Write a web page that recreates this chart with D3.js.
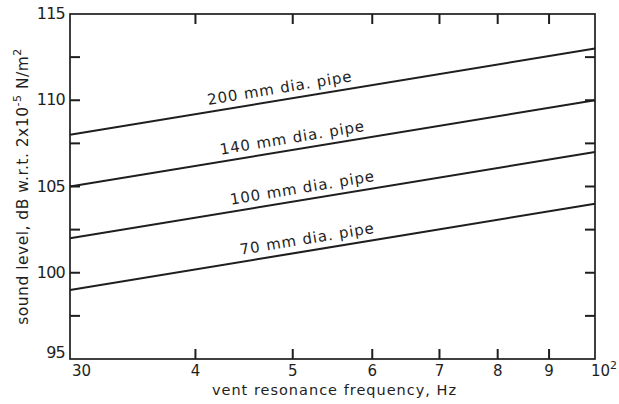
<!DOCTYPE html>
<html>
<head>
<meta charset="utf-8">
<script src="https://cdn.jsdelivr.net/npm/d3@7"></script>
<style>
  html, body { margin: 0; padding: 0; background: #fff; }
  svg text { font-family: "DejaVu Sans", sans-serif; fill: #1e1e1e; }
</style>
</head>
<body>
<svg id="chart" width="619" height="404"></svg>
<script>
// Sound level vs vent resonance frequency, one line per pipe diameter
const pipeLabels = ["200 mm dia. pipe", "140 mm dia. pipe", "100 mm dia. pipe", "70 mm dia. pipe"];
const freqs = [30, 100];
const level200 = [108, 113];
const level140 = [105, 110];
const level100 = [102, 107];
const level70  = [99, 104];
const labelFreq = [41.3, 42.5, 43.5, 44.5];

const xTicks = [30, 40, 50, 60, 70, 80, 90, 100];
const xTickLabels = ["30", "4", "5", "6", "7", "8", "9", "10"];
const yMajor = [95, 100, 105, 110, 115];
const yMinor = [97.5, 102.5, 107.5, 112.5];

const series = [level200, level140, level100, level70];

const svg = d3.select("#chart");
const margin = { left: 70, right: 24, top: 14, bottom: 45 };
const W = 619, H = 404;

const x = d3.scaleLog().domain([30, 100]).range([margin.left, W - margin.right]);
const y = d3.scaleLinear().domain([95, 115]).range([H - margin.bottom, margin.top]);

const ink = "#1e1e1e";
const tickLen = 10;
const innerX = xTicks.slice(1, -1);
const innerY = yMajor.slice(1, -1).concat(yMinor).sort((a, b) => a - b);

// frame
svg.append("rect")
  .attr("x", x(30)).attr("y", y(115))
  .attr("width", x(100) - x(30)).attr("height", y(95) - y(115))
  .attr("fill", "none").attr("stroke", ink).attr("stroke-width", 1.7);

// inward tick marks on all four sides
const tickLayer = svg.append("g");
tickLayer.selectAll("line.xb").data(innerX).join("line").attr("class", "xb")
  .attr("x1", d => x(d)).attr("x2", d => x(d))
  .attr("y1", y(95)).attr("y2", y(95) - tickLen);
tickLayer.selectAll("line.xt").data(innerX).join("line").attr("class", "xt")
  .attr("x1", d => x(d)).attr("x2", d => x(d))
  .attr("y1", y(115)).attr("y2", y(115) + tickLen);
tickLayer.selectAll("line.yl").data(innerY).join("line").attr("class", "yl")
  .attr("x1", x(30)).attr("x2", x(30) + tickLen)
  .attr("y1", d => y(d)).attr("y2", d => y(d));
tickLayer.selectAll("line.yr").data(innerY).join("line").attr("class", "yr")
  .attr("x1", x(100)).attr("x2", x(100) - tickLen)
  .attr("y1", d => y(d)).attr("y2", d => y(d));
tickLayer.selectAll("line")
  .attr("stroke", ink)
  .attr("stroke-width", 2);

// y tick labels
svg.append("g").selectAll("text").data(yMajor).join("text")
  .attr("x", x(30) - 5)
  .attr("y", d => y(d) + (d === 95 ? -1 : 5))
  .attr("text-anchor", "end")
  .attr("font-size", 16)
  .attr("letter-spacing", -0.8)
  .text(d => d);

// x tick labels
const xl = svg.append("g").attr("font-size", 15);
xTicks.forEach((v, i) => {
  const last = i === xTicks.length - 1;
  const t = xl.append("text")
    .attr("x", i === 0 ? x(v) + 2 : (last ? x(v) - 4 : x(v)))
    .attr("y", y(95) + 17)
    .attr("text-anchor", i === 0 || last ? "start" : "middle")
    .text(xTickLabels[i]);
  if (last) {
    t.append("tspan").attr("font-size", 11).attr("dy", -7).text("2");
  }
});

// axis titles
svg.append("text")
  .attr("x", (x(30) + x(100)) / 2 + 2)
  .attr("y", 395)
  .attr("text-anchor", "middle")
  .attr("font-size", 14.5)
  .attr("letter-spacing", 1)
  .text("vent resonance frequency, Hz");

const yt = svg.append("text")
  .attr("transform", `translate(28, ${(y(95) + y(115)) / 2}) rotate(-90)`)
  .attr("text-anchor", "middle")
  .attr("font-size", 15.5)
  .attr("letter-spacing", 0.5);
yt.append("tspan").text("sound level, dB w.r.t. 2x10");
yt.append("tspan").attr("font-size", 11).attr("dy", -7).text("-5");
yt.append("tspan").attr("dy", 7).text(" N/m");
yt.append("tspan").attr("font-size", 11).attr("dy", -7).text("2");

// lines
const line = d3.line().x(d => x(d[0])).y(d => y(d[1]));
series.forEach(s => {
  svg.append("path")
    .datum(freqs.map((f, k) => [f, s[k]]))
    .attr("d", line)
    .attr("fill", "none")
    .attr("stroke", ink)
    .attr("stroke-width", 2.1);
});

// labels set along each line
series.forEach((s, i) => {
  const f = labelFreq[i];
  const t = Math.log(f / freqs[0]) / Math.log(freqs[1] / freqs[0]);
  const v = s[0] + (s[1] - s[0]) * t;
  const ang = Math.atan2(y(s[1]) - y(s[0]), x(freqs[1]) - x(freqs[0])) * 180 / Math.PI;
  svg.append("text")
    .attr("transform", `translate(${x(f)}, ${y(v)}) rotate(${ang}) translate(0, -7)`)
    .attr("font-size", 15)
    .attr("letter-spacing", 0.9)
    .text(pipeLabels[i]);
});
</script>
</body>
</html>
